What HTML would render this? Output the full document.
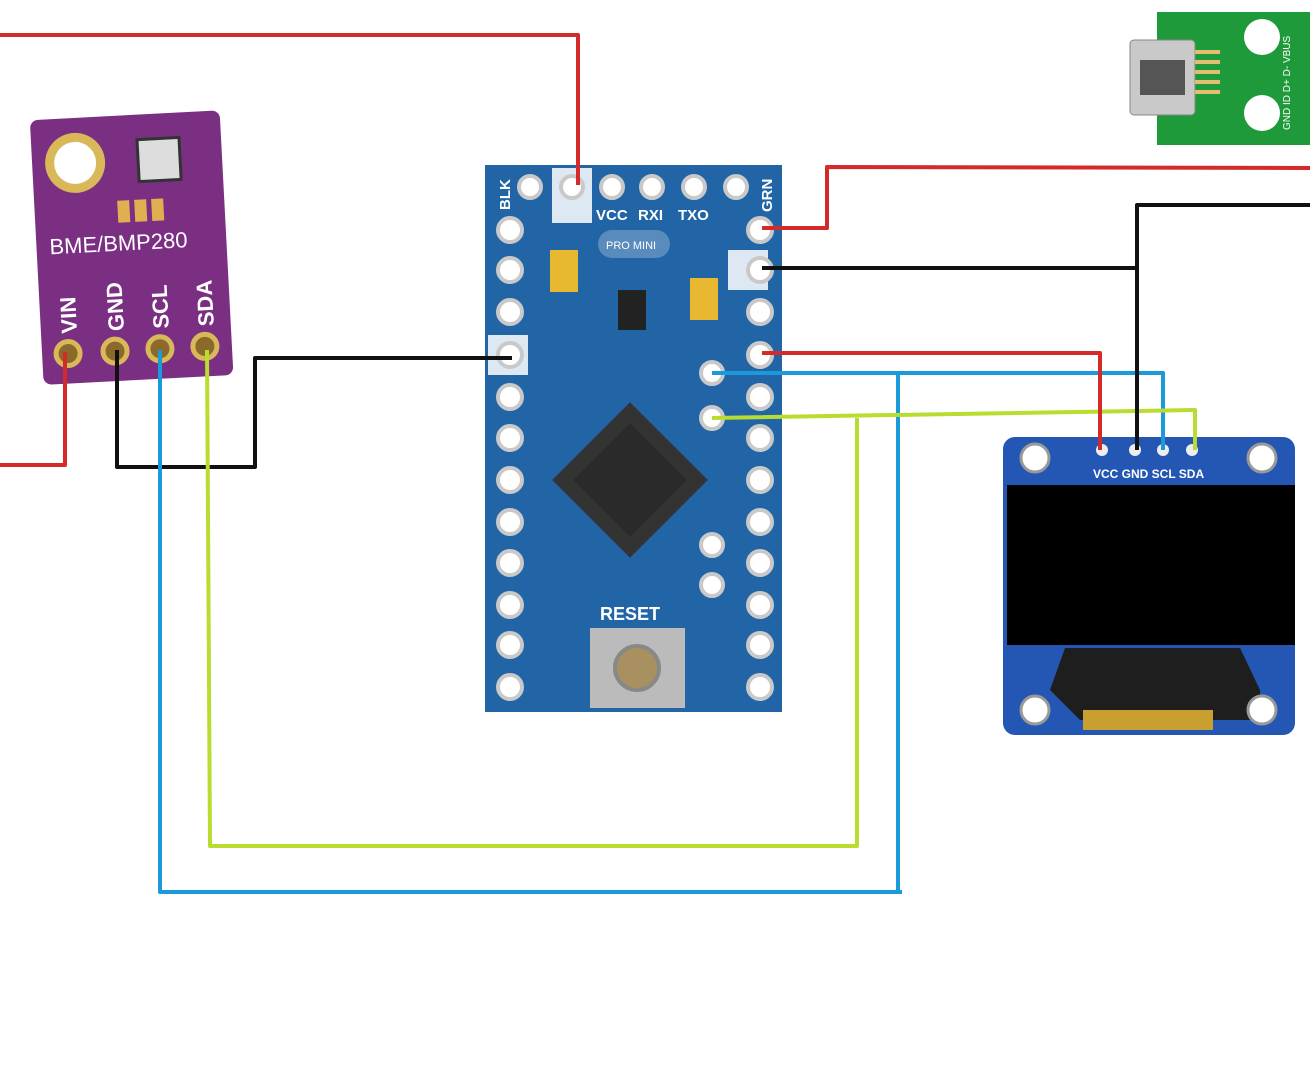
<!DOCTYPE html>
<html><head><meta charset="utf-8"><style>
html,body{margin:0;padding:0;background:#fff;width:1310px;height:1092px;overflow:hidden}
svg{display:block}
text{font-family:"Liberation Sans",sans-serif}
</style></head><body>
<svg width="1310" height="1092" viewBox="0 0 1310 1092" xmlns="http://www.w3.org/2000/svg">
<!-- USB breakout -->
<rect x="1157" y="12" width="160" height="133" fill="#1f9a3a"/>
<rect x="1130" y="40" width="65" height="75" rx="4" fill="#c9c9c9" stroke="#888"/>
<rect x="1140" y="60" width="45" height="35" fill="#555"/>
<circle cx="1262" cy="37" r="18" fill="#fff"/>
<circle cx="1262" cy="113" r="18" fill="#fff"/>
<g fill="#e0c070"><rect x="1195" y="50" width="25" height="4"/><rect x="1195" y="60" width="25" height="4"/><rect x="1195" y="70" width="25" height="4"/><rect x="1195" y="80" width="25" height="4"/><rect x="1195" y="90" width="25" height="4"/></g>
<g fill="#fff" font-size="10"><text transform="translate(1290,130) rotate(-90)">GND ID  D+  D-  VBUS</text></g>

<!-- BME280 board -->
<g transform="rotate(-3 136 350)">
<rect x="42" y="115" width="190" height="265" rx="8" fill="#7a2f82"/>
<circle cx="85" cy="160" r="30" fill="#d9b85a"/><circle cx="85" cy="160" r="21" fill="#fff"/>
<rect x="148" y="140" width="42" height="42" fill="#ddd" stroke="#333" stroke-width="3"/>
<g fill="#e0b050"><rect x="125" y="200" width="12" height="22"/><rect x="142" y="200" width="12" height="22"/><rect x="159" y="200" width="12" height="22"/></g>
<text x="55" y="250" fill="#fff" font-size="22">BME/BMP280</text>
<g fill="#fff" font-size="22" font-weight="bold">
<text transform="translate(78,330) rotate(-90)">VIN</text>
<text transform="translate(125,330) rotate(-90)">GND</text>
<text transform="translate(170,330) rotate(-90)">SCL</text>
<text transform="translate(215,330) rotate(-90)">SDA</text></g>
<g fill="#8a6a2a" stroke="#d9b85a" stroke-width="5">
<circle cx="68" cy="350" r="12"/><circle cx="115" cy="350" r="12"/><circle cx="160" cy="350" r="12"/><circle cx="205" cy="350" r="12"/></g>
</g>

<!-- Pro Mini -->
<rect x="485" y="165" width="297" height="547" fill="#2265a6"/>
<rect x="552" y="168" width="40" height="55" fill="#fff" opacity="0.85"/>
<rect x="488" y="335" width="40" height="40" fill="#fff" opacity="0.85"/>
<rect x="728" y="250" width="40" height="40" fill="#fff" opacity="0.85"/>
<g fill="#fff" stroke="#c9c9c9" stroke-width="4">
<circle cx="530" cy="187" r="11"/><circle cx="572" cy="187" r="11"/><circle cx="612" cy="187" r="11"/><circle cx="652" cy="187" r="11"/><circle cx="694" cy="187" r="11"/><circle cx="736" cy="187" r="11"/>
</g>
<g fill="#fff" stroke="#c9c9c9" stroke-width="4">
<circle cx="510" cy="230" r="12"/><circle cx="510" cy="270" r="12"/><circle cx="510" cy="312" r="12"/><circle cx="510" cy="355" r="12"/><circle cx="510" cy="397" r="12"/><circle cx="510" cy="438" r="12"/><circle cx="510" cy="480" r="12"/><circle cx="510" cy="522" r="12"/><circle cx="510" cy="563" r="12"/><circle cx="510" cy="605" r="12"/><circle cx="510" cy="645" r="12"/><circle cx="510" cy="687" r="12"/>
<circle cx="760" cy="230" r="12"/><circle cx="760" cy="270" r="12"/><circle cx="760" cy="312" r="12"/><circle cx="760" cy="355" r="12"/><circle cx="760" cy="397" r="12"/><circle cx="760" cy="438" r="12"/><circle cx="760" cy="480" r="12"/><circle cx="760" cy="522" r="12"/><circle cx="760" cy="563" r="12"/><circle cx="760" cy="605" r="12"/><circle cx="760" cy="645" r="12"/><circle cx="760" cy="687" r="12"/>
<circle cx="712" cy="373" r="11"/><circle cx="712" cy="418" r="11"/><circle cx="712" cy="545" r="11"/><circle cx="712" cy="585" r="11"/>
</g>
<g fill="#fff" font-size="15" font-weight="bold">
<text x="596" y="220">VCC</text><text x="638" y="220">RXI</text><text x="678" y="220">TXO</text>
<text x="600" y="620" font-size="18">RESET</text>
<text transform="translate(510,210) rotate(-90)">BLK</text>
<text transform="translate(772,212) rotate(-90)">GRN</text>
</g>
<rect x="598" y="230" width="72" height="28" rx="14" fill="#fff" opacity="0.25"/>
<text x="606" y="249" fill="#fff" font-size="11">PRO MINI</text>
<rect x="550" y="250" width="28" height="42" fill="#e8b830"/>
<rect x="690" y="278" width="28" height="42" fill="#e8b830"/>
<rect x="618" y="290" width="28" height="40" fill="#222"/>
<g transform="rotate(45 630 480)"><rect x="575" y="425" width="110" height="110" fill="#333"/><rect x="590" y="440" width="80" height="80" fill="#2a2a2a"/></g>
<rect x="590" y="628" width="95" height="80" fill="#bbb"/><circle cx="637" cy="668" r="22" fill="#a89060" stroke="#888" stroke-width="4"/>

<!-- OLED -->
<rect x="1003" y="437" width="292" height="298" rx="12" fill="#2357b3"/>
<rect x="1007" y="485" width="288" height="160" fill="#000"/>
<path d="M1065 648 L1240 648 L1260 690 L1260 720 L1080 720 L1050 690 Z" fill="#1e1e1e"/>
<rect x="1083" y="710" width="130" height="20" fill="#c9a030"/>
<g fill="#fff" stroke="#999" stroke-width="3">
<circle cx="1035" cy="458" r="14"/><circle cx="1262" cy="458" r="14"/><circle cx="1035" cy="710" r="14"/><circle cx="1262" cy="710" r="14"/></g>
<g fill="#eee"><circle cx="1102" cy="450" r="6"/><circle cx="1135" cy="450" r="6"/><circle cx="1163" cy="450" r="6"/><circle cx="1192" cy="450" r="6"/></g>
<text x="1093" y="478" fill="#fff" font-size="12" font-weight="bold">VCC GND SCL SDA</text>

<!-- Wires -->
<g fill="none" stroke-width="4" stroke-linejoin="round">
<polyline stroke="#d42a2a" points="0,35 578,35 578,185"/>
<polyline stroke="#d42a2a" points="65,352 65,465 0,465"/>
<polyline stroke="#111" points="117,350 117,467 255,467 255,358 512,358"/>
<polyline stroke="#1a9ad8" points="160,350 160,892 902,892"/>
<polyline stroke="#1a9ad8" points="898,892 898,372"/>
<polyline stroke="#1a9ad8" points="712,373 1163,373 1163,450"/>
<polyline stroke="#b8dc30" points="207,350 210,846 857,846 857,418"/>
<polyline stroke="#b8dc30" points="712,418 1195,410 1195,450"/>
<polyline stroke="#d42a2a" points="762,353 1100,353 1100,450"/>
<polyline stroke="#111" points="762,268 1137,268 1137,450"/>
<polyline stroke="#111" points="1137,268 1137,205 1310,205"/>
<polyline stroke="#d42a2a" points="762,228 827,228 827,167 1310,168"/>
</g>
</svg>
</body></html>
